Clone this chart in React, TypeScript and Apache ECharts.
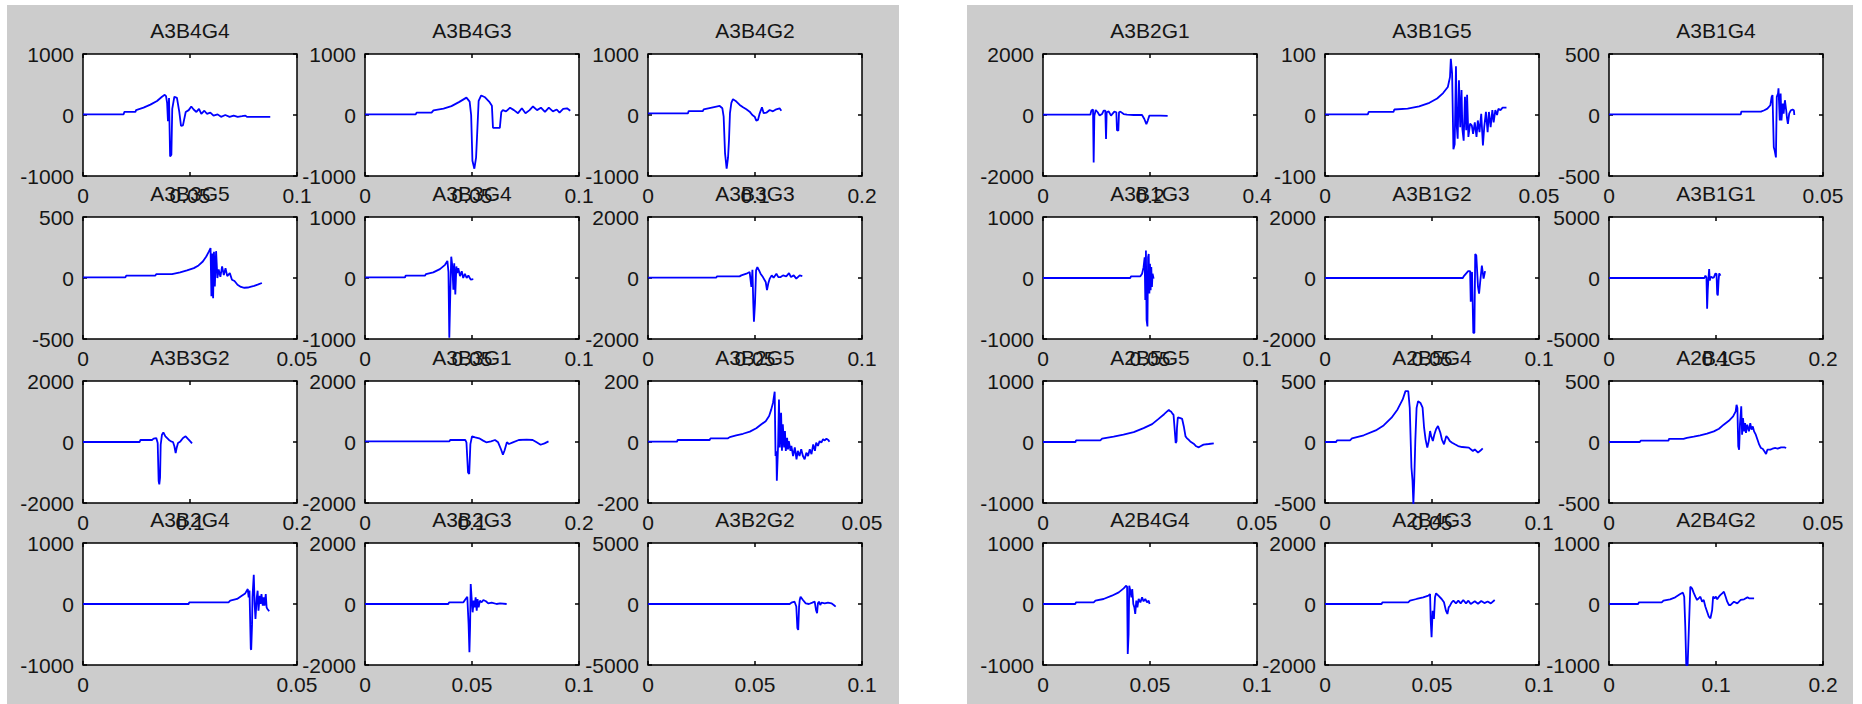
import React, { useEffect, useRef } from "react";
import * as echarts from "echarts";

// ---------- data ----------
const titles = [
  "A3B4G4", "A3B4G3", "A3B4G2", "A3B3G5", "A3B3G4", "A3B3G3",
  "A3B3G2", "A3B3G1", "A3B2G5", "A3B2G4", "A3B2G3", "A3B2G2",
  "A3B2G1", "A3B1G5", "A3B1G4", "A3B1G3", "A3B1G2", "A3B1G1",
  "A2B5G5", "A2B5G4", "A2B4G5", "A2B4G4", "A2B4G3", "A2B4G2",
];
const xMaxes = [
  0.1, 0.1, 0.2, 0.05, 0.1, 0.1, 0.2, 0.2, 0.05, 0.05, 0.1, 0.1,
  0.4, 0.05, 0.05, 0.1, 0.1, 0.2, 0.05, 0.1, 0.05, 0.1, 0.1, 0.2,
];
const yMaxes = [
  1000, 1000, 1000, 500, 1000, 2000, 2000, 2000, 200, 1000, 2000, 5000,
  2000, 100, 500, 1000, 2000, 5000, 1000, 500, 500, 1000, 2000, 1000,
];

const a3b4g4 = [[0,10],[0.019,10],[0.0193,50],[0.0245,50],[0.0248,80],[0.0283,120],[0.0315,170],[0.0346,230],[0.0369,300],[0.0382,330],[0.0388,310],[0.0393,200],[0.0397,-100],[0.0402,280],[0.0407,-680],[0.0413,-650],[0.0417,100],[0.0427,300],[0.0439,280],[0.045,50],[0.0458,-180],[0.0467,-170],[0.048,50],[0.0494,80],[0.0506,140],[0.0517,90],[0.053,50],[0.0542,100],[0.0553,20],[0.0567,70],[0.0579,20],[0.0595,40],[0.061,-10],[0.0629,10],[0.0645,-30],[0.0665,0],[0.0685,-30],[0.0704,-10],[0.0723,-30],[0.0743,-20],[0.0759,-10],[0.0766,-30],[0.0875,-30]];
const a3b4g3 = [[0,10],[0.0237,10],[0.0241,40],[0.0311,40],[0.032,77],[0.0367,105],[0.0404,145],[0.0441,215],[0.0474,285],[0.0489,220],[0.0496,0],[0.0502,-750],[0.0511,-880],[0.0519,-700],[0.0524,-320],[0.0531,230],[0.0543,320],[0.0561,290],[0.058,220],[0.0593,150],[0.0598,-210],[0.063,-210],[0.0637,50],[0.0644,80],[0.0659,60],[0.0678,120],[0.0696,80],[0.0715,30],[0.0733,110],[0.075,30],[0.0769,80],[0.0785,140],[0.0804,80],[0.0822,120],[0.0841,50],[0.0859,120],[0.0878,60],[0.0896,90],[0.0909,40],[0.0926,100],[0.0944,110],[0.0959,70]];
const a3b4g2 = [[0,27],[0.0374,27],[0.038,65],[0.0514,65],[0.052,93],[0.0607,126],[0.067,148],[0.0695,110],[0.0707,-27],[0.072,-630],[0.0735,-880],[0.0748,-700],[0.0757,-410],[0.0766,30],[0.0779,200],[0.0794,260],[0.0826,220],[0.0857,165],[0.0888,126],[0.0919,93],[0.095,55],[0.0975,0],[0.0997,-27],[0.1012,-93],[0.1028,-80],[0.1044,27],[0.1065,126],[0.1081,30],[0.1106,38],[0.1137,82],[0.1168,60],[0.1199,93],[0.123,110],[0.1246,70]];
const a3b3g5 = [[0,5],[0.0099,5],[0.0101,19],[0.0169,19],[0.0171,32],[0.0208,32],[0.0227,46],[0.0243,62],[0.0259,81],[0.027,103],[0.028,135],[0.0288,176],[0.0294,216],[0.0298,245],[0.03,-150],[0.0302,200],[0.0304,-165],[0.0306,215],[0.0308,-70],[0.0311,220],[0.0314,0],[0.0317,70],[0.0321,10],[0.0325,95],[0.0329,25],[0.0333,80],[0.0337,15],[0.0343,40],[0.0348,-14],[0.0354,-25],[0.0361,-55],[0.0369,-73],[0.0377,-80],[0.0385,-78],[0.0393,-70],[0.04,-65],[0.0408,-55],[0.0418,-41]];
const a3b3g4 = [[0,10],[0.0187,10],[0.019,38],[0.028,38],[0.0285,65],[0.0319,92],[0.035,146],[0.0374,216],[0.0385,280],[0.039,100],[0.0394,-980],[0.0399,-190],[0.0403,350],[0.0408,200],[0.0413,-190],[0.0417,240],[0.0422,-270],[0.0427,190],[0.0431,80],[0.0436,160],[0.0444,30],[0.0452,110],[0.0459,0],[0.0467,70],[0.0475,0],[0.0483,40],[0.0494,-27],[0.0506,-20]];
const a3b3g3 = [[0,10],[0.0319,10],[0.0322,54],[0.0428,54],[0.0436,86],[0.046,140],[0.0475,195],[0.0483,-290],[0.0488,270],[0.0492,-830],[0.0495,-1430],[0.05,-830],[0.0505,250],[0.0511,357],[0.0519,250],[0.0526,140],[0.0537,30],[0.055,-130],[0.0556,-400],[0.0562,-180],[0.0569,-20],[0.0578,86],[0.0587,10],[0.06,140],[0.0609,30],[0.062,30],[0.0631,86],[0.0646,54],[0.0659,162],[0.0668,30],[0.0681,86],[0.0693,-20],[0.0709,86],[0.0721,65]];
const a3b3g2 = [[0,0],[0.053,0],[0.0536,65],[0.0645,65],[0.066,109],[0.0685,130],[0.0698,-30],[0.0707,-1280],[0.0713,-1390],[0.072,-1170],[0.0726,-90],[0.0738,240],[0.0751,315],[0.077,185],[0.0801,75],[0.0822,20],[0.0841,0],[0.0854,-140],[0.0866,-360],[0.0875,-200],[0.0888,-30],[0.091,20],[0.0935,130],[0.0959,185],[0.0981,100],[0.1003,20],[0.1019,-45]];
const a3b3g1 = [[0,20],[0.0789,20],[0.0796,65],[0.0937,65],[0.0948,-10],[0.0963,-1000],[0.0974,-1050],[0.0985,-70],[0.1,185],[0.103,150],[0.1067,120],[0.1104,45],[0.1133,-10],[0.1178,20],[0.1215,65],[0.1244,-10],[0.127,-230],[0.1289,-415],[0.1304,-280],[0.1326,-10],[0.1345,-65],[0.1382,-10],[0.1437,65],[0.1511,75],[0.1567,65],[0.1604,-10],[0.1641,-90],[0.1678,-45],[0.1715,20]];
const a3b2g5 = [[0,1],[0.0068,1],[0.0069,6.5],[0.0144,6.5],[0.0146,12],[0.0187,12],[0.0191,16],[0.0206,22],[0.0222,27],[0.0238,34],[0.0253,45],[0.0265,58],[0.0275,68],[0.0283,85],[0.0288,107],[0.0292,128],[0.0296,165],[0.0298,-46],[0.03,-30],[0.0301,-127],[0.0304,-8],[0.0306,139],[0.0308,-18],[0.0311,96],[0.0313,-29],[0.0315,58],[0.0318,-18],[0.032,36],[0.0322,-29],[0.0325,14],[0.0327,-24],[0.0329,3],[0.0333,-29],[0.0335,-13],[0.0339,-46],[0.0343,-18],[0.0347,-57],[0.035,-29],[0.0354,-46],[0.0358,-24],[0.0362,-46],[0.0366,-57],[0.037,-35],[0.0374,-46],[0.0378,-24],[0.0382,-40],[0.0386,-8],[0.039,-29],[0.0393,-2],[0.0397,-13],[0.0401,3],[0.0405,-2],[0.0409,9],[0.0413,5],[0.0417,11],[0.0421,7],[0.0424,1]];
const a3b2g4 = [[0,0],[0.0247,0],[0.0248,27],[0.034,27],[0.0344,55],[0.036,82],[0.0371,136],[0.0379,174],[0.0385,245],[0.0387,110],[0.0389,220],[0.0392,-735],[0.0393,-750],[0.0395,-330],[0.0396,110],[0.0399,480],[0.0401,0],[0.0403,-245],[0.0406,110],[0.0408,218],[0.041,-110],[0.0413,136],[0.0415,0],[0.0417,164],[0.042,-27],[0.0422,110],[0.0424,-27],[0.0427,164],[0.0429,-55],[0.0431,-82],[0.0435,-120]];
const a3b2g3 = [[0,0],[0.0389,0],[0.0393,55],[0.046,55],[0.0467,131],[0.0478,240],[0.0484,-654],[0.0488,-1580],[0.0491,-760],[0.0494,654],[0.0498,220],[0.0503,-272],[0.0508,110],[0.0512,-110],[0.0517,218],[0.0522,-218],[0.0526,164],[0.0531,-110],[0.0537,110],[0.0545,55],[0.0553,131],[0.0565,90],[0.0576,20],[0.0592,45],[0.0615,0],[0.0631,20],[0.0662,0]];
const a3b2g2 = [[0,0],[0.0662,0],[0.067,109],[0.0685,190],[0.0693,-200],[0.0698,-1980],[0.0702,-2120],[0.0706,-200],[0.0709,330],[0.0713,600],[0.0724,330],[0.0737,55],[0.0752,0],[0.0768,109],[0.0779,190],[0.0785,-490],[0.079,-760],[0.0794,55],[0.0799,190],[0.0805,-80],[0.0811,109],[0.0826,55],[0.0841,109],[0.0857,55],[0.0868,-80],[0.0877,-217]];
const a3b2g1 = [[0,10],[0.0885,10],[0.0903,143],[0.0935,176],[0.0947,-1560],[0.096,-30],[0.0985,165],[0.1022,90],[0.1059,-20],[0.1103,30],[0.1134,143],[0.1165,143],[0.1178,-790],[0.119,90],[0.1228,120],[0.1271,-20],[0.1333,110],[0.1371,90],[0.1383,-495],[0.1408,-516],[0.1421,90],[0.1446,110],[0.1508,30],[0.157,10],[0.1695,0],[0.1851,0],[0.1894,-130],[0.1932,-297],[0.1957,-190],[0.1988,-20],[0.2069,-20],[0.2193,-20],[0.233,-30]];
const a3b1g5 = [[0,1],[0.01,1],[0.0102,5],[0.016,5],[0.0162,9],[0.0193,10.5],[0.022,14],[0.0244,20],[0.0262,27],[0.0276,36],[0.0287,46],[0.0292,62],[0.0294,92],[0.0297,68],[0.03,-56],[0.0303,-48],[0.0306,80],[0.0308,-20],[0.031,-39],[0.0313,57],[0.0316,-20],[0.0319,41],[0.0321,-23],[0.0324,-42],[0.0327,30],[0.033,-25],[0.0332,33],[0.0335,-36],[0.0339,-14],[0.0343,-17],[0.0346,-31],[0.035,-12],[0.0354,-36],[0.0357,-9],[0.0361,-28],[0.0365,2],[0.0369,-50],[0.0372,-20],[0.0376,5],[0.038,-28],[0.0383,5],[0.0387,-20],[0.0391,8],[0.0394,-12],[0.0398,8],[0.0402,0],[0.0405,10],[0.041,8],[0.0415,12],[0.0424,12]];
const a3b1g4 = [[0,5],[0.0308,5],[0.0309,28],[0.0355,28],[0.0363,39],[0.037,52],[0.0377,80],[0.038,149],[0.0382,163],[0.0385,-265],[0.0387,-290],[0.039,-348],[0.0392,149],[0.0395,177],[0.0396,218],[0.0399,-44],[0.0401,177],[0.0403,-44],[0.0406,94],[0.0408,11],[0.0411,121],[0.0414,39],[0.0416,-30],[0.0418,-72],[0.0421,11],[0.0423,25],[0.0425,39],[0.0429,44],[0.0432,39],[0.0433,0]];
const a3b1g3 = [[0,0],[0.0408,0],[0.0411,27],[0.0455,27],[0.0463,70],[0.047,178],[0.0475,340],[0.0478,-362],[0.0481,449],[0.0484,-686],[0.0488,-795],[0.0491,340],[0.0494,395],[0.0497,-255],[0.05,232],[0.0503,-200],[0.0506,178],[0.0509,-146],[0.0512,70],[0.0517,-10]];
const a3b1g2 = [[0,0],[0.0644,0],[0.0648,54],[0.0669,227],[0.0678,227],[0.0681,-780],[0.0687,200],[0.0693,-1800],[0.0698,-1800],[0.0702,790],[0.0707,735],[0.0715,-290],[0.072,-510],[0.0726,-75],[0.0733,410],[0.0741,-20],[0.0748,227]];
const a3b1g1 = [[0,0],[0.0892,0],[0.0901,189],[0.0911,50],[0.0917,-2510],[0.0923,-1030],[0.0929,-80],[0.0936,730],[0.0942,-220],[0.0948,50],[0.0958,110],[0.0967,0],[0.098,50],[0.0995,378],[0.1005,320],[0.1011,-1300],[0.1017,-1430],[0.1024,-220],[0.103,378],[0.1042,190]];
const a2b5g5 = [[0,0],[0.0076,0],[0.0077,27],[0.0134,27],[0.0138,54],[0.0165,87],[0.0188,120],[0.0212,163],[0.0235,228],[0.0255,293],[0.027,380],[0.0283,456],[0.0294,527],[0.0296,510],[0.0299,500],[0.0302,470],[0.0305,445],[0.0308,174],[0.031,-16],[0.0312,10],[0.0313,228],[0.0315,402],[0.0321,391],[0.0325,380],[0.0329,255],[0.0333,92],[0.0336,65],[0.034,38],[0.0344,10],[0.0352,-27],[0.0358,-70],[0.0364,-87],[0.0368,-70],[0.0375,-43],[0.0387,-33],[0.0399,-22]];
const a2b5g4 = [[0,0],[0.0052,0],[0.0056,14],[0.0117,14],[0.0126,30],[0.0181,55],[0.0237,95],[0.0274,136],[0.0311,199],[0.0339,267],[0.0363,349],[0.0376,417],[0.0389,417],[0.0396,280],[0.0404,-210],[0.0409,-319],[0.0413,-510],[0.0417,-319],[0.0422,8],[0.0428,280],[0.0435,335],[0.0446,320],[0.0456,281],[0.0463,117],[0.047,22],[0.0478,-46],[0.0485,8],[0.0491,90],[0.0496,49],[0.0504,8],[0.0511,62],[0.0519,104],[0.0528,131],[0.0539,76],[0.0546,22],[0.0556,-19],[0.0567,49],[0.0574,35],[0.0583,8],[0.0594,-6],[0.0607,-19],[0.0622,-33],[0.0641,-41],[0.0672,-46],[0.0691,-74],[0.07,-60],[0.0715,-87],[0.0728,-68],[0.0737,-52]];
const a2b4g5 = [[0,0],[0.0072,0],[0.0074,11],[0.0139,11],[0.014,25],[0.0174,25],[0.0182,33],[0.0198,44],[0.0213,55],[0.0229,68],[0.0245,87],[0.0257,109],[0.0268,142],[0.028,174],[0.029,210],[0.0296,251],[0.0298,305],[0.03,278],[0.0302,-35],[0.0304,-63],[0.0306,142],[0.0309,292],[0.0311,60],[0.0313,196],[0.0316,87],[0.0318,155],[0.032,74],[0.0323,142],[0.0327,87],[0.033,155],[0.0333,101],[0.0336,128],[0.0339,87],[0.0343,60],[0.0347,19],[0.0351,-22],[0.0355,-49],[0.0359,-55],[0.0363,-76],[0.0367,-98],[0.037,-63],[0.0377,-63],[0.0382,-55],[0.0389,-49],[0.0394,-55],[0.0402,-44],[0.041,-44],[0.0414,-49]];
const a2b4g4 = [[0,0],[0.0151,0],[0.0154,27],[0.0237,27],[0.0245,55],[0.0283,82],[0.0322,136],[0.0354,191],[0.0377,256],[0.0389,300],[0.0393,283],[0.0396,-818],[0.04,-490],[0.0403,300],[0.0408,218],[0.0413,109],[0.0417,245],[0.0422,0],[0.0427,-55],[0.0431,-164],[0.0436,55],[0.0441,-55],[0.0447,82],[0.0455,27],[0.0463,109],[0.047,44],[0.0478,82],[0.0486,27],[0.0494,55],[0.0498,0]];
const a2b4g3 = [[0,0],[0.0265,0],[0.0268,55],[0.0389,55],[0.0397,109],[0.0428,164],[0.0459,218],[0.0483,272],[0.0491,327],[0.0494,-545],[0.0498,-1090],[0.0503,-220],[0.0509,-490],[0.0514,218],[0.0519,349],[0.053,272],[0.0545,164],[0.0556,55],[0.0565,-218],[0.0572,-327],[0.0578,-110],[0.0584,-55],[0.0592,55],[0.06,109],[0.0612,20],[0.0623,109],[0.0634,20],[0.0646,131],[0.0659,20],[0.067,109],[0.0681,0],[0.07,90],[0.0715,10],[0.073,100],[0.0745,30],[0.076,80],[0.0775,20],[0.0793,131]];
const a2b4g2 = [[0,0],[0.0273,0],[0.0279,27],[0.0493,27],[0.0509,55],[0.0571,77],[0.0619,109],[0.0666,164],[0.0691,186],[0.0703,120],[0.0713,-372],[0.0722,-1000],[0.0735,-1000],[0.0747,-372],[0.076,284],[0.0776,257],[0.0791,186],[0.0807,120],[0.0823,66],[0.0838,93],[0.0854,120],[0.087,38],[0.0885,66],[0.0901,-44],[0.0917,-126],[0.0933,-208],[0.0948,-235],[0.0964,-98],[0.0973,120],[0.0986,93],[0.0999,120],[0.1011,77],[0.1027,120],[0.1042,148],[0.1058,175],[0.1074,202],[0.109,120],[0.1105,38],[0.1121,-16],[0.1137,-16],[0.1168,38],[0.1199,11],[0.1231,66],[0.1262,77],[0.1294,109],[0.1309,93],[0.1356,93]];

const seriesData = [
  a3b4g4, a3b4g3, a3b4g2, a3b3g5, a3b3g4, a3b3g3,
  a3b3g2, a3b3g1, a3b2g5, a3b2g4, a3b2g3, a3b2g2,
  a3b2g1, a3b1g5, a3b1g4, a3b1g3, a3b1g2, a3b1g1,
  a2b5g5, a2b5g4, a2b4g5, a2b4g4, a2b4g3, a2b4g2,
];

// ---------- layout ----------
const W = 1862;
const H = 704;
const colLefts = [83, 365, 648, 1043, 1325, 1609];
const rowTops = [54, 217, 381, 543];
const boxW = 214;
const boxH = 122;
const FONT = "'Liberation Sans', Arial, Helvetica, sans-serif";
const FS = 21;
const TXT = "#151515";

const fmt = (v: number) => String(Math.round(v * 10000) / 10000);

export default function App() {
  const ref = useRef<HTMLDivElement>(null);
  useEffect(() => {
    if (!ref.current) return;
    const chart = echarts.init(ref.current, undefined, { renderer: "svg" });
    const grids: any[] = [];
    const xAxes: any[] = [];
    const yAxes: any[] = [];
    const series: any[] = [];
    const graphics: any[] = [];
    titles.forEach((t, i) => {
      const panel = Math.floor(i / 12);
      const k = i % 12;
      const row = Math.floor(k / 3);
      const col = k % 3;
      const left = colLefts[panel * 3 + col];
      const top = rowTops[row];
      grids.push({
        left, top, width: boxW, height: boxH,
        show: true, backgroundColor: "#fff", borderColor: "#000", borderWidth: 1.5,
      });
      const xm = xMaxes[i];
      const ym = yMaxes[i];
      const xInt = xm === 0.05 ? 0.05 : xm / 2;
      const tick = { show: true, inside: true, length: 4, lineStyle: { color: "#000", width: 1.5 } };
      const lbl = { color: TXT, fontSize: FS, fontFamily: FONT, margin: 9, formatter: fmt };
      const line = { show: false, onZero: false };
      xAxes.push({
        type: "value", gridIndex: i, min: 0, max: xm, interval: xInt, position: "bottom",
        axisLine: line, splitLine: { show: false }, axisTick: tick, axisLabel: lbl,
      });
      xAxes.push({
        type: "value", gridIndex: i, min: 0, max: xm, interval: xInt, position: "top",
        axisLine: line, splitLine: { show: false }, axisTick: tick, axisLabel: { show: false },
      });
      yAxes.push({
        type: "value", gridIndex: i, min: -ym, max: ym, interval: ym, position: "left",
        axisLine: line, splitLine: { show: false }, axisTick: tick, axisLabel: lbl,
      });
      yAxes.push({
        type: "value", gridIndex: i, min: -ym, max: ym, interval: ym, position: "right",
        axisLine: line, splitLine: { show: false }, axisTick: tick, axisLabel: { show: false },
      });
      series.push({
        type: "line", xAxisIndex: 2 * i, yAxisIndex: 2 * i, data: seriesData[i],
        showSymbol: false, symbol: "none", lineStyle: { color: "#0000ff", width: 1.8 },
        itemStyle: { color: "#0000ff" }, z: 3,
      });
      graphics.push({
        type: "text", x: left + boxW / 2, y: top - 24, z: 10,
        style: { text: t, fill: TXT, fontSize: FS, fontFamily: FONT, align: "center", verticalAlign: "middle" },
      });
    });
    chart.setOption({
      animation: false,
      grid: grids,
      xAxis: xAxes,
      yAxis: yAxes,
      series,
      graphic: { elements: graphics },
    });
    return () => chart.dispose();
  }, []);

  return (
    <div style={{ position: "fixed", left: 0, top: 0, width: W, height: H, background: "#fff" }}>
      <div style={{ position: "absolute", left: 7, top: 5, width: 892, height: 699, background: "#cccccc" }} />
      <div style={{ position: "absolute", left: 967, top: 5, width: 886, height: 699, background: "#cccccc" }} />
      <div ref={ref} style={{ position: "absolute", left: 0, top: 0, width: W, height: H }} />
    </div>
  );
}
